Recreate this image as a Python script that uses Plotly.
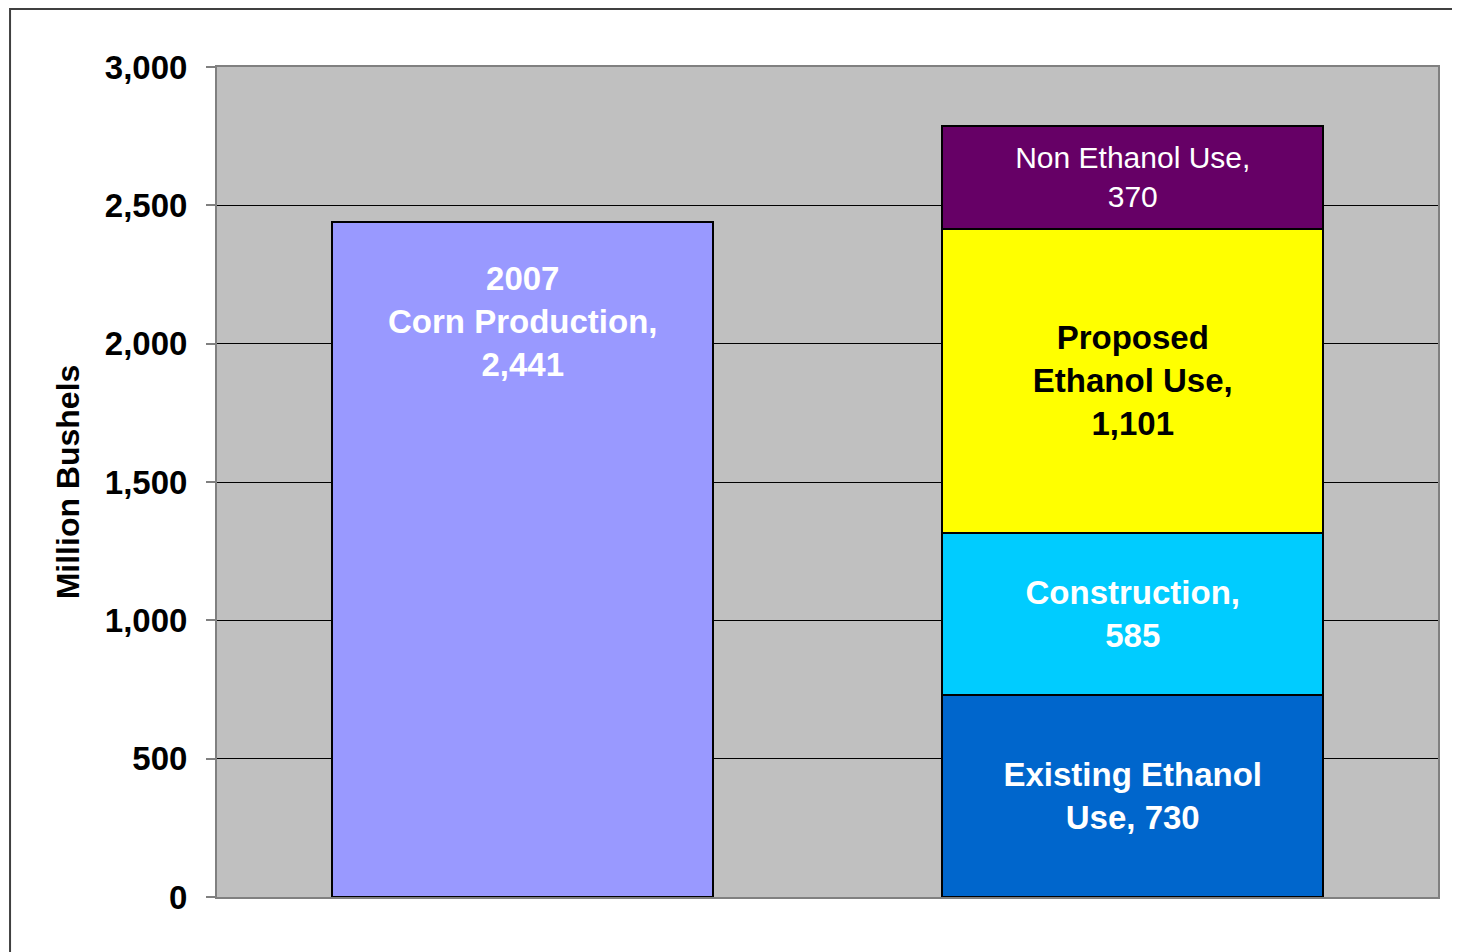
"""
Corn production vs. proposed corn use, stacked bar comparison
"""

import plotly.graph_objects as go

FONT = "Liberation Sans, Arial, sans-serif"

categories = ["2007 Production", "Proposed Use"]

production = [2441, None]
existing_ethanol = [None, 730]
construction = [None, 585]
proposed_ethanol = [None, 1101]
non_ethanol = [None, 370]

production_label = "2007<br>Corn Production,<br>2,441"
segment_labels = {
    "existing": "Existing Ethanol<br>Use, 730",
    "construction": "Construction,<br>585",
    "proposed": "Proposed<br>Ethanol Use,<br>1,101",
    "non": "Non Ethanol Use,<br>370",
}

y_ticks = [0, 500, 1000, 1500, 2000, 2500, 3000]
y_tick_labels = ["0", "500", "1,000", "1,500", "2,000", "2,500", "3,000"]

fig = go.Figure()

bar_line = dict(color="black", width=2)

fig.add_trace(go.Bar(x=categories, y=production, marker_color="#9999FF",
                     marker_line=bar_line, name="Production"))

segments = [
    (existing_ethanol, "#0066CC", segment_labels["existing"], "white", "bold"),
    (construction, "#00CCFF", segment_labels["construction"], "white", "bold"),
    (proposed_ethanol, "#FFFF00", segment_labels["proposed"], "black", "bold"),
    (non_ethanol, "#660066", segment_labels["non"], "white", "normal"),
]
for values, color, label, font_color, weight in segments:
    fig.add_trace(go.Bar(
        x=categories, y=values, marker_color=color, marker_line=bar_line,
        text=[None, label], textposition="inside", insidetextanchor="middle",
        textangle=0, constraintext="none",
        textfont=dict(family=FONT, size=30 if weight == "normal" else 33,
                      color=font_color, weight=weight),
        hoverinfo="skip"))

# label near the top of the production bar
fig.add_annotation(x=categories[0], y=production[0], yanchor="top", yshift=-36,
                   text=production_label, showarrow=False,
                   font=dict(family=FONT, size=33, color="white", weight="bold"))

# outer frame of the chart object
fig.add_shape(type="rect", xref="paper", yref="paper",
              x0=-0.1695, x1=1.03, y0=-0.09, y1=1.0699,
              line=dict(color="#404040", width=2), layer="below")

# page body has an 8px margin, so the figure is sized/padded to compensate
fig.update_layout(
    barmode="stack",
    bargap=0.376,
    showlegend=False,
    width=1452, height=944,
    margin=dict(l=209, r=22, t=59, b=55),
    plot_bgcolor="#C0C0C0",
    paper_bgcolor="white",
    font=dict(family=FONT, color="black"),
    xaxis=dict(showticklabels=False, ticks="", showgrid=False,
               showline=True, linecolor="#808080", linewidth=2, mirror=True),
    yaxis=dict(range=[0, 3000], tickvals=y_ticks, ticktext=y_tick_labels,
               ticks="outside", ticklen=9, tickcolor="#808080", tickwidth=2,
               ticklabelstandoff=12,
               tickfont=dict(family=FONT, size=33, weight="bold"),
               showgrid=True, gridcolor="black", gridwidth=1,
               showline=True, linecolor="#808080", linewidth=2, mirror=True,
               zeroline=False,
               title=dict(text="Million Bushels", standoff=16,
                          font=dict(family=FONT, size=32, weight="bold"))),
)

fig.write_html("out.html")
